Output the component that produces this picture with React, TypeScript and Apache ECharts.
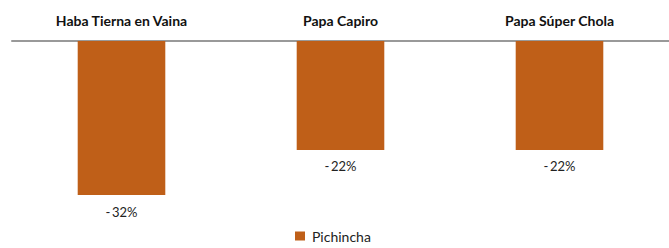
import React, { useEffect, useRef } from "react";
import * as echarts from "echarts";

const categories = ["Haba Tierna en Vaina", "Papa Capiro", "Papa Súper Chola"];
const seriesName = "Pichincha";
const values = [-31.7, -22.4, -22.4];

export default function App() {
  const ref = useRef<HTMLDivElement>(null);
  useEffect(() => {
    const chart = echarts.init(ref.current!, null, { renderer: "svg" });
    chart.setOption({
      animation: false,
      textStyle: { fontFamily: "Lato" },
      grid: { left: 12, right: 0, top: 41, bottom: 32, containLabel: false },
      legend: {
        data: [seriesName],
        bottom: 0,
        left: 290,
        itemWidth: 10,
        itemHeight: 9,
        itemGap: 6,
        icon: "rect",
        textStyle: { fontSize: 14, color: "#222", fontFamily: "Lato", padding: [0, 0, 0, 2] },
      },
      xAxis: {
        type: "category",
        position: "top",
        data: categories,
        axisLine: { show: true, lineStyle: { color: "#999", width: 2 } },
        axisTick: { show: false },
        axisLabel: {
          margin: 14,
          fontSize: 14,
          fontWeight: "bold",
          color: "#111",
          fontFamily: "Lato",
        },
      },
      yAxis: {
        type: "value",
        min: -36,
        max: 0,
        show: false,
        splitLine: { show: false },
      },
      series: [
        {
          name: seriesName,
          type: "bar",
          data: values,
          barWidth: "40%",
          itemStyle: { color: "#BF5F18" },
          label: {
            show: true,
            position: "bottom",
            distance: 10,
            fontSize: 13,
            color: "#222",
            fontFamily: "Lato",
            formatter: (p: any) => "-" + "\u2009" + Math.abs(Math.round(p.value)) + "%",
          },
        },
      ],
    });
    return () => chart.dispose();
  }, []);
  return <div ref={ref} style={{ width: 669, height: 248, position: "absolute", left: 0, top: 0 }} />;
}
